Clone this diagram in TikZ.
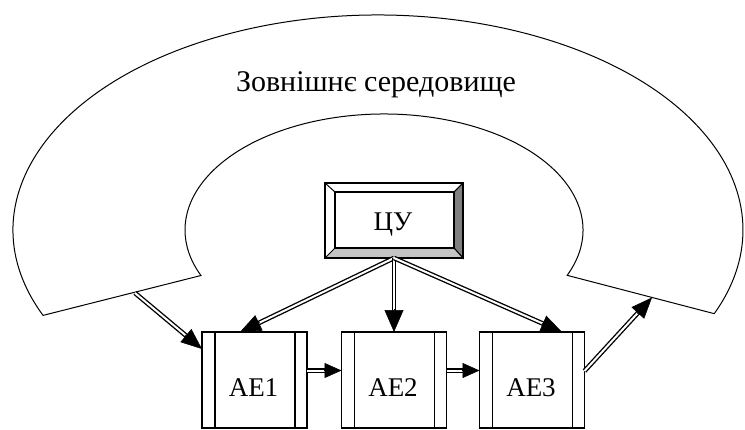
\documentclass[tikz,border=0pt]{standalone}
\usepackage{fontspec}
\setmainfont{Liberation Serif}
\usetikzlibrary{arrows.meta,calc}
\definecolor{bevdark}{RGB}{128,128,128}
\definecolor{bevlight}{RGB}{196,196,196}
\newcommand\dblarr[4]{% #1 head length, #2 head width, #3 from, #4 to
  \draw[shaft, shorten >=#1pt-5pt] (#3) -- (#4);
  \draw[-{Triangle[length=#1pt,width=#2pt]}, line width=0.6pt] ($(#4)!#1pt+1pt!(#3)$) -- (#4);
}
\newcommand\aelabelfont{\fontsize{27}{32}\selectfont}
\begin{document}
\begin{tikzpicture}[x=1pt,y=-1pt,
  ring/.style={draw=black,line width=1pt,fill=white},
  framebox/.style={draw=black,line width=1.2pt,fill=white,inner sep=0pt,outer sep=0pt},
  aebox/.style={framebox,minimum width=105pt,minimum height=96pt},
  cubox/.style={framebox,minimum width=138pt,minimum height=75pt},
  shaft/.style={draw=black,double=white,line width=1.35pt,double distance=2pt},
  sidebar/.style={line width=1.1pt},
]
\useasboundingbox (0,0) rectangle (745,429);

% outer environment ring (block arc)
\draw[ring] (378,230) ++(156.6:365 and 215)
  arc[start angle=156.6,end angle=382.9,x radius=365,y radius=215]
  -- ($(384,230)+(23:199 and 116)$)
  arc[start angle=23,end angle=-203.1,x radius=199,y radius=116]
  -- cycle;
\node[font=\fontsize{30}{36}\selectfont, anchor=base] (env) at (376,91) {Зовнішнє середовище};

\coordinate (inL) at (135,293);
\coordinate (outR) at (652,297.5);

% central control unit
\node[cubox] (cu) at (394,220.5) {};
\coordinate (ci-nw) at ($(cu.north west)+(10,9)$);
\coordinate (ci-ne) at ($(cu.north east)+(-9,9)$);
\coordinate (ci-se) at ($(cu.south east)+(-9,-10)$);
\coordinate (ci-sw) at ($(cu.south west)+(10,-10)$);
\filldraw[fill=bevdark, line width=1pt] (cu.north east) -- (cu.south east) -- (ci-se) -- (ci-ne) -- cycle;
\filldraw[fill=bevlight, line width=1pt] (cu.south west) -- (cu.south east) -- (ci-se) -- (ci-sw) -- cycle;
\draw[line width=1pt] (cu.north west) -- (ci-nw) (cu.north east) -- (ci-ne);
\draw[line width=1.2pt] (ci-nw) rectangle (ci-se);
\draw[line width=1.2pt] (cu.north west) rectangle (cu.south east);
\node[font=\aelabelfont, anchor=base] (cut) at (393,230) {ЦУ};

% active elements
\node[aebox] (ae1) at (254.5,380) {};
\node[aebox] (ae2) at (394,380) {};
\node[aebox] (ae3) at (532,380) {};
\foreach \n in {1,2,3}{
  \draw[sidebar] ($(ae\n.north west)+(13,0)$) -- ($(ae\n.south west)+(13,0)$);
  \draw[sidebar] ($(ae\n.north east)+(-12,0)$) -- ($(ae\n.south east)+(-12,0)$);
}
\node[font=\aelabelfont, anchor=base] (ae1t) at ($(ae1.center)+(-1,16)$) {АЕ1};
\node[font=\aelabelfont, anchor=base] (ae2t) at ($(ae2.center)+(-1,16)$) {АЕ2};
\node[font=\aelabelfont, anchor=base] (ae3t) at ($(ae3.center)+(-1,16)$) {АЕ3};

% connector end points
\coordinate (t1) at ($(ae1.north)+(-14.5,0)$);
\coordinate (t3) at ($(ae3.north)+(30,0)$);
\coordinate (l1) at ($(ae1.west)+(0,-31)$);
\coordinate (r3) at ($(ae3.east)+(0,-9)$);
\coordinate (e1) at ($(ae1.east)+(0,-9.5)$);
\coordinate (w2) at ($(ae2.west)+(0,-9.5)$);
\coordinate (e2) at ($(ae2.east)+(0,-9.5)$);
\coordinate (w3) at ($(ae3.west)+(0,-9.5)$);

\dblarr{21}{17}{cu.south}{t1}
\dblarr{22}{19}{cu.south}{ae2.north}
\dblarr{21}{17}{cu.south}{t3}
\dblarr{21}{17}{inL}{l1}
\dblarr{21}{17}{r3}{outR}
\dblarr{17}{15}{e1}{w2}
\dblarr{17}{15}{e2}{w3}
\end{tikzpicture}
\end{document}
